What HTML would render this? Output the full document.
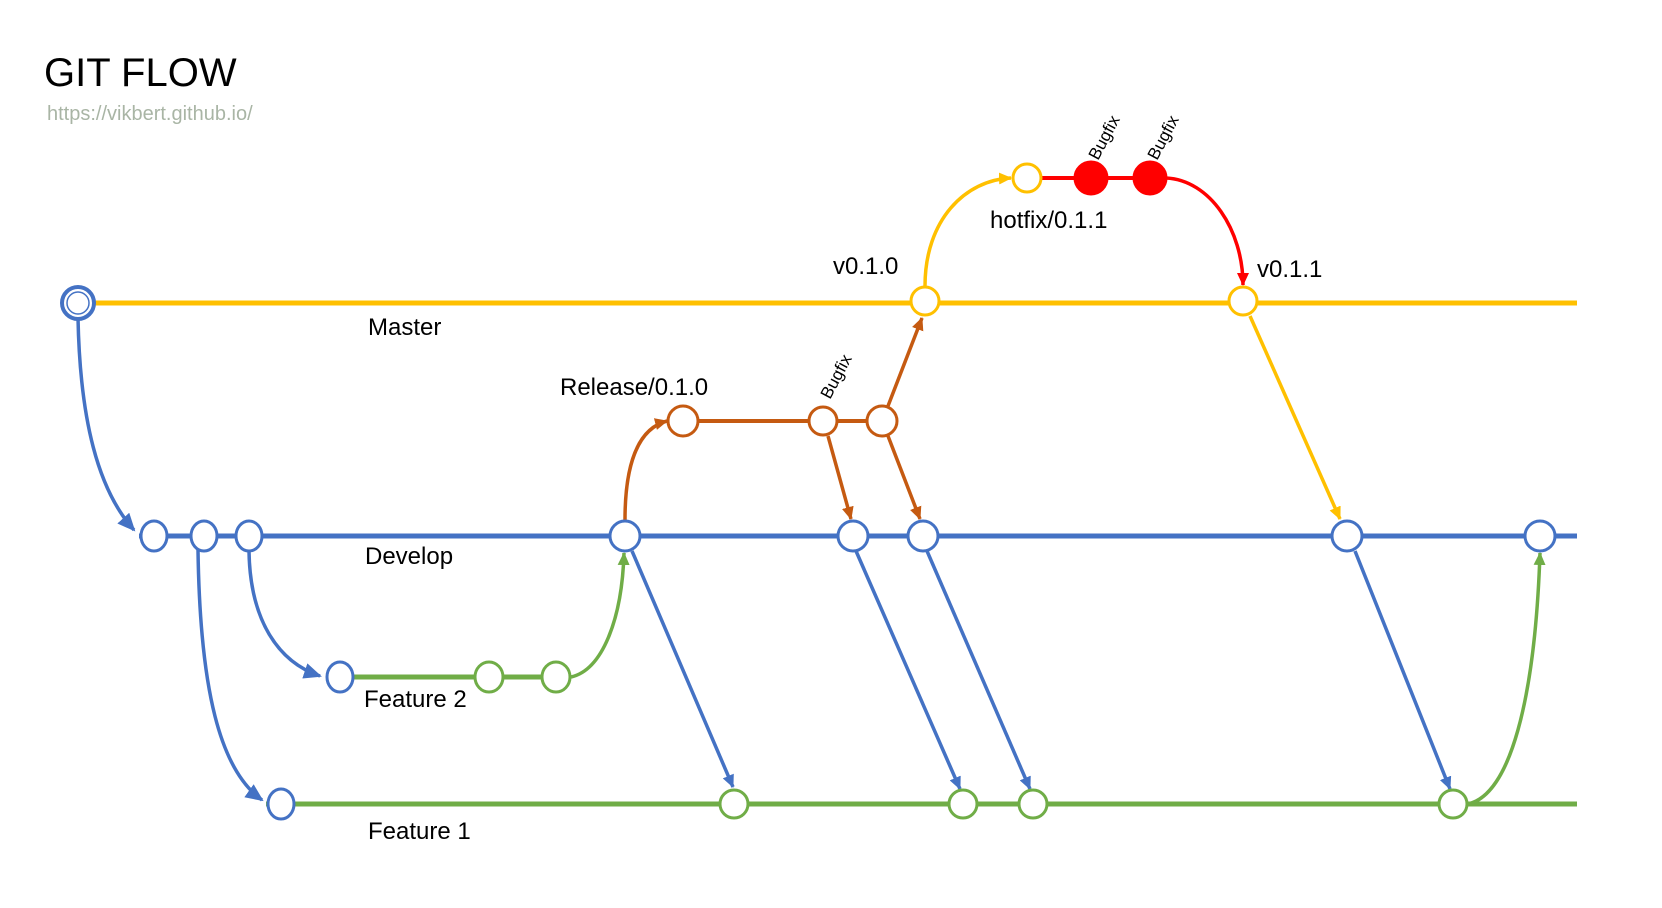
<!DOCTYPE html>
<html><head><meta charset="utf-8"><style>
html,body{margin:0;padding:0;background:#fff;}
svg{display:block;}
text{font-family:"Liberation Sans",sans-serif;fill:#000;}
</style></head><body>
<svg width="1662" height="908" viewBox="0 0 1662 908" xmlns="http://www.w3.org/2000/svg">
<defs>
<marker id="ab" markerWidth="20" markerHeight="20" refX="16" refY="8" orient="auto" markerUnits="userSpaceOnUse"><path d="M0,0 L18,8 L0,16 z" fill="#4472C4"/></marker>
<marker id="abs" markerWidth="14" markerHeight="14" refX="12" refY="6" orient="auto" markerUnits="userSpaceOnUse"><path d="M0,0 L13,6 L0,12 z" fill="#4472C4"/></marker>
<marker id="ag" markerWidth="14" markerHeight="14" refX="12" refY="6" orient="auto" markerUnits="userSpaceOnUse"><path d="M0,0 L13,6 L0,12 z" fill="#70AD47"/></marker>
<marker id="ao" markerWidth="14" markerHeight="14" refX="12" refY="6" orient="auto" markerUnits="userSpaceOnUse"><path d="M0,0 L13,6 L0,12 z" fill="#C55A11"/></marker>
<marker id="ay" markerWidth="14" markerHeight="14" refX="12" refY="6" orient="auto" markerUnits="userSpaceOnUse"><path d="M0,0 L13,6 L0,12 z" fill="#FFC000"/></marker>
<marker id="ar" markerWidth="14" markerHeight="14" refX="12" refY="6" orient="auto" markerUnits="userSpaceOnUse"><path d="M0,0 L13,6 L0,12 z" fill="#FF0000"/></marker>
</defs>

<text x="44" y="86" font-size="40">GIT FLOW</text>
<text x="47" y="120" font-size="20" style="fill:#A9B5A5">https://vikbert.github.io/</text>

<line x1="78" y1="303" x2="1577" y2="303" stroke="#FFC000" stroke-width="5"/>
<line x1="139" y1="536" x2="1577" y2="536" stroke="#4472C4" stroke-width="5"/>
<line x1="266" y1="804" x2="1577" y2="804" stroke="#70AD47" stroke-width="5"/>
<line x1="340" y1="677" x2="556" y2="677" stroke="#70AD47" stroke-width="5"/>
<line x1="683" y1="421" x2="882" y2="421" stroke="#C55A11" stroke-width="4"/>
<line x1="1027" y1="178" x2="1150" y2="178" stroke="#FF0000" stroke-width="4"/>

<g fill="none" stroke-width="3.5">
<path d="M78,318 C80,420 98,490 134,530" stroke="#4472C4" marker-end="url(#ab)"/>
<path d="M198,550 C200,690 220,770 262,800" stroke="#4472C4" marker-end="url(#ab)"/>
<path d="M249,551 C250,620 278,662 320,676" stroke="#4472C4" marker-end="url(#ab)"/>
<path d="M571,677 C602,670 622,620 624,553" stroke="#70AD47" marker-end="url(#ag)"/>
<path d="M625,520 C625,460 640,428 667,421" stroke="#C55A11" marker-end="url(#ao)"/>
<path d="M828,436 L851,519" stroke="#C55A11" marker-end="url(#ao)"/>
<path d="M888,436 L920,519" stroke="#C55A11" marker-end="url(#ao)"/>
<path d="M888,406 L922,318" stroke="#C55A11" marker-end="url(#ao)"/>
<path d="M925,286 C925,220 965,180 1011,178" stroke="#FFC000" marker-end="url(#ay)"/>
<path d="M1166,178 C1210,180 1243,230 1243,285" stroke="#FF0000" marker-end="url(#ar)"/>
<path d="M1250,316 L1340,519" stroke="#FFC000" marker-end="url(#ay)"/>
<path d="M632,551 L733,787" stroke="#4472C4" marker-end="url(#abs)"/>
<path d="M856,551 L960,789" stroke="#4472C4" marker-end="url(#abs)"/>
<path d="M927,551 L1030,789" stroke="#4472C4" marker-end="url(#abs)"/>
<path d="M1355,551 L1450,789" stroke="#4472C4" marker-end="url(#abs)"/>
<path d="M1468,804 C1510,795 1535,700 1540,553" stroke="#70AD47" marker-end="url(#ag)"/>
</g>

<g fill="#fff" stroke-width="3">
<circle cx="78" cy="303" r="16" stroke="#4472C4" stroke-width="4"/>
<circle cx="78" cy="303" r="11" stroke="#4472C4" stroke-width="1.5"/>
<g stroke="#4472C4">
<ellipse cx="154" cy="536" rx="13" ry="15"/>
<ellipse cx="204" cy="536" rx="13" ry="15"/>
<ellipse cx="249" cy="536" rx="13" ry="15"/>
<circle cx="625" cy="536" r="15"/>
<circle cx="853" cy="536" r="15"/>
<circle cx="923" cy="536" r="15"/>
<circle cx="1347" cy="536" r="15"/>
<circle cx="1540" cy="536" r="15"/>
<ellipse cx="340" cy="677" rx="13" ry="15"/>
<ellipse cx="281" cy="804" rx="13" ry="15"/>
</g>
<g stroke="#70AD47">
<ellipse cx="489" cy="677" rx="14" ry="15"/>
<ellipse cx="556" cy="677" rx="14" ry="15"/>
<circle cx="734" cy="804" r="14"/>
<circle cx="963" cy="804" r="14"/>
<circle cx="1033" cy="804" r="14"/>
<circle cx="1453" cy="804" r="14"/>
</g>
<g stroke="#C55A11">
<circle cx="683" cy="421" r="15"/>
<circle cx="823" cy="421" r="14"/>
<circle cx="882" cy="421" r="15"/>
</g>
<g stroke="#FFC000">
<circle cx="925" cy="301" r="14"/>
<circle cx="1243" cy="301" r="14"/>
<circle cx="1027" cy="178" r="14"/>
</g>
<circle cx="1091" cy="178" r="16" fill="#FF0000" stroke="#FF0000"/>
<circle cx="1150" cy="178" r="16" fill="#FF0000" stroke="#FF0000"/>
</g>

<g font-size="24">
<text x="368" y="335">Master</text>
<text x="365" y="564">Develop</text>
<text x="364" y="707">Feature 2</text>
<text x="368" y="839">Feature 1</text>
<text x="560" y="395">Release/0.1.0</text>
<text x="833" y="274">v0.1.0</text>
<text x="1257" y="277">v0.1.1</text>
<text x="990" y="228">hotfix/0.1.1</text>
</g>
<g font-size="17">
<text transform="translate(830,400) rotate(-62)">Bugfix</text>
<text transform="translate(1098,161) rotate(-62)">Bugfix</text>
<text transform="translate(1157,161) rotate(-62)">Bugfix</text>
</g>
</svg>
</body></html>
